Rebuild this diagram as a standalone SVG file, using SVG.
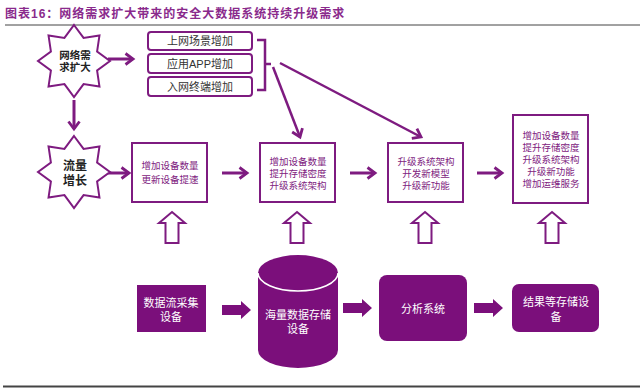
<svg xmlns="http://www.w3.org/2000/svg" width="640" height="388" viewBox="0 0 640 388">
<style>
.t{font-family:"Liberation Sans","Noto Sans CJK SC",sans-serif;}
.title{font-size:12px;font-weight:bold;fill:#8a2a8c;letter-spacing:1px;}
.star{fill:#fff;stroke:#7e1b80;stroke-width:2;}
.startx{font-size:10.5px;font-weight:bold;fill:#222;text-anchor:middle;}
.lbox{fill:#fff;stroke:#7e1b80;stroke-width:2;}
.ltx{font-size:11px;fill:#333;text-anchor:middle;}
.mbox{fill:#fff;stroke:#7e1b80;stroke-width:2;}
.mtx{font-size:9.5px;fill:#7e1b80;text-anchor:middle;}
.fill{fill:#7b0f7b;}
.wtx{font-size:11px;fill:#fff;text-anchor:middle;}
.ln{stroke:#7e1b80;stroke-width:3;fill:none;}
.ln2{stroke:#7e1b80;stroke-width:2.5;fill:none;}
.hollow{fill:#fff;stroke:#7e1b80;stroke-width:2;}
</style>
<defs>
<marker id="chev" markerUnits="userSpaceOnUse" markerWidth="14" markerHeight="14" refX="9" refY="7" orient="auto" viewBox="0 0 14 14">
<path d="M1.5,1.5 L9,7 L1.5,12.5" fill="none" stroke="#7e1b80" stroke-width="2.8"/>
</marker>
<polygon id="starShape" points="0,-36 9.57,-23.1 25.46,-25.46 23.1,-9.57 36,0 23.1,9.57 25.46,25.46 9.57,23.1 0,36 -9.57,23.1 -25.46,25.46 -23.1,9.57 -36,0 -23.1,-9.57 -25.46,-25.46 -9.57,-23.1"/>
<polygon id="upArrow" points="0,0 13,11 6.5,11 6.5,31 -6.5,31 -6.5,11 -13,11"/>
<polygon id="blockArrow" points="0,-5 19,-5 19,-9 29,0 19,9 19,5 0,5"/>
</defs>
<rect width="640" height="388" fill="#fff"/>
<text class="t title" x="5" y="18">图表16：网络需求扩大带来的安全大数据系统持续升级需求</text>
<line x1="5" y1="25" x2="640" y2="25" stroke="#444" stroke-width="1"/>
<line x1="3" y1="386.5" x2="640" y2="386.5" stroke="#444" stroke-width="2"/>

<g id="connectors">
<line class="ln" x1="108" y1="59" x2="133" y2="59" marker-end="url(#chev)"/>
<line class="ln" x1="74" y1="100" x2="74" y2="129" marker-end="url(#chev)"/>
<line class="ln" x1="102" y1="173" x2="129" y2="173" marker-end="url(#chev)"/>
<line class="ln" x1="222" y1="173" x2="247" y2="173" marker-end="url(#chev)"/>
<line class="ln" x1="350" y1="173" x2="375" y2="173" marker-end="url(#chev)"/>
<line class="ln" x1="477" y1="173" x2="502" y2="173" marker-end="url(#chev)"/>
<path class="ln2" d="M257,40 H265 V90 H257 M265,64 H271"/>
<line class="ln2" x1="273" y1="67" x2="300" y2="137" marker-end="url(#chev)"/>
<line class="ln2" x1="280" y1="63" x2="421" y2="137" marker-end="url(#chev)"/>
<use href="#upArrow" class="hollow" x="172" y="212"/>
<use href="#upArrow" class="hollow" x="297" y="212"/>
<use href="#upArrow" class="hollow" x="425" y="212"/>
<use href="#upArrow" class="hollow" x="552" y="212"/>
<use href="#blockArrow" class="fill" x="222" y="310"/>
<use href="#blockArrow" class="fill" x="343" y="308"/>
<use href="#blockArrow" class="fill" x="474" y="308"/>
</g>

<g id="star1">
<use href="#starShape" class="star" x="74" y="61"/>
<text class="t startx" x="75" y="59">网络需<tspan x="75" dy="12">求扩大</tspan></text>
</g>
<g id="star2">
<use href="#starShape" class="star" x="74" y="172"/>
<text class="t startx" x="75" y="170" style="font-size:12px">流量<tspan x="75" dy="15">增长</tspan></text>
</g>

<g id="list1">
<rect class="lbox" x="148" y="32" width="104" height="18" rx="3"/>
<text class="t ltx" x="200" y="45">上网场景增加</text>
</g>
<g id="list2">
<rect class="lbox" x="148" y="54" width="104" height="19" rx="3"/>
<text class="t ltx" x="200" y="68">应用APP增加</text>
</g>
<g id="list3">
<rect class="lbox" x="148" y="77" width="104" height="19" rx="3"/>
<text class="t ltx" x="200" y="91">入网终端增加</text>
</g>

<g id="boxA">
<rect class="mbox" x="132" y="143" width="75" height="59"/>
<text class="t mtx" x="170" y="169">增加设备数量<tspan x="170" dy="14">更新设备提速</tspan></text>
</g>
<g id="boxB">
<rect class="mbox" x="260" y="143" width="75" height="59"/>
<text class="t mtx" x="298" y="165">增加设备数量<tspan x="298" dy="12">提升存储密度</tspan><tspan x="298" dy="12">升级系统架构</tspan></text>
</g>
<g id="boxC">
<rect class="mbox" x="388" y="143" width="75" height="59"/>
<text class="t mtx" x="426" y="165">升级系统架构<tspan x="426" dy="12">开发新模型</tspan><tspan x="426" dy="12">升级新功能</tspan></text>
</g>
<g id="boxD">
<rect class="mbox" x="513" y="115" width="75" height="88"/>
<text class="t mtx" x="551" y="139">增加设备数量<tspan x="551" dy="12">提升存储密度</tspan><tspan x="551" dy="12">升级系统架构</tspan><tspan x="551" dy="12">升级新功能</tspan><tspan x="551" dy="12">增加运维服务</tspan></text>
</g>

<g id="collect">
<rect class="fill" x="137" y="285" width="69" height="47"/>
<text class="t wtx" x="171" y="307">数据流采集<tspan x="171" dy="14">设备</tspan></text>
</g>
<g id="storage">
<path class="fill" d="M258,273 V350 A40,18 0 0 0 338,350 V273 A40,18 0 0 0 258,273 Z"/>
<path d="M258,273 A40,18 0 0 0 338,273" fill="none" stroke="#fff" stroke-width="1.5"/>
<text class="t wtx" x="298" y="319">海量数据存储<tspan x="298" dy="14">设备</tspan></text>
</g>
<g id="analysis">
<rect class="fill" x="379" y="275" width="88" height="66" rx="8"/>
<text class="t wtx" x="423" y="313">分析系统</text>
</g>
<g id="result">
<rect class="fill" x="512" y="284" width="87" height="48" rx="7"/>
<text class="t wtx" x="556" y="306">结果等存储设<tspan x="556" dy="15">备</tspan></text>
</g>
</svg>
